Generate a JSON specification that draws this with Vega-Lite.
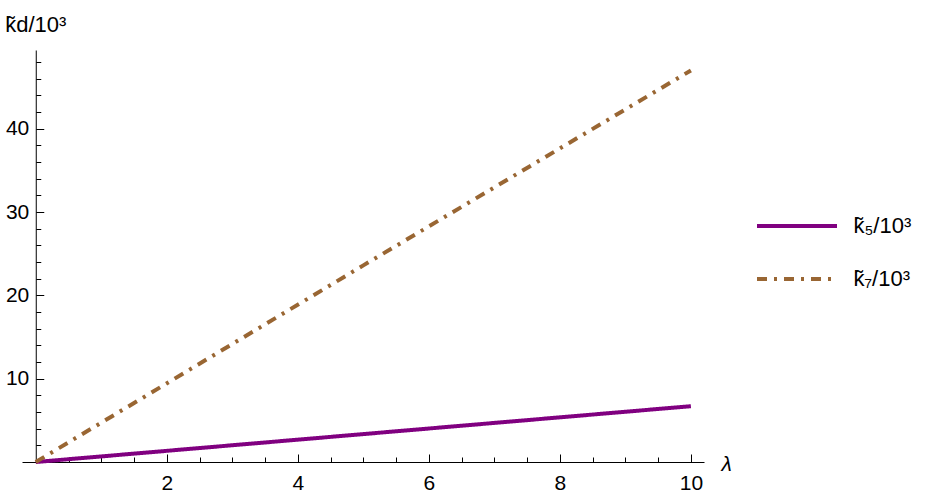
{
  "$schema": "https://vega.github.io/schema/vega-lite/v6.json",
  "width": 682,
  "height": 412,
  "autosize": {"type": "none"},
  "padding": {"left": 22, "top": 50, "right": 237, "bottom": 37},
  "background": "white",
  "config": {
    "view": {"stroke": null},
    "font": "Liberation Sans",
    "axis": {"grid": false, "domainColor": "#000000", "tickColor": "#000000", "labelColor": "#000000", "titleColor": "#000000", "labelFont": "Liberation Sans", "titleFont": "Liberation Sans"}
  },
  "data": {
    "values": [
      {"series": "k̃₅/10³", "lambda": 0, "k": 0},
      {"series": "k̃₅/10³", "lambda": 5, "k": 3.35},
      {"series": "k̃₅/10³", "lambda": 10, "k": 6.7},
      {"series": "k̃₇/10³", "lambda": 0, "k": 0},
      {"series": "k̃₇/10³", "lambda": 5, "k": 23.6},
      {"series": "k̃₇/10³", "lambda": 10, "k": 47.0}
    ]
  },
  "mark": {"type": "line", "strokeWidth": 4, "clip": false},
  "encoding": {
    "x": {
      "field": "lambda",
      "type": "quantitative",
      "scale": {"domain": [-0.21, 10.2], "nice": false, "zero": false},
      "axis": {
        "title": "λ",
        "titleFontStyle": "italic",
        "titleFontWeight": "normal",
        "titleFontSize": 21,
        "titleAlign": "left",
        "titleBaseline": "alphabetic",
        "titleAnchor": "start",
        "titleX": 699,
        "titleY": 8,
        "values": [0.5, 1, 1.5, 2, 2.5, 3, 3.5, 4, 4.5, 5, 5.5, 6, 6.5, 7, 7.5, 8, 8.5, 9, 9.5, 10],
        "labelExpr": "datum.value % 2 === 0 ? format(datum.value, 'd') : ''",
        "labelFontSize": 21,
        "labelPadding": 18,
        "labelFlush": false,
        "labelOverlap": false,
        "tickSize": {"condition": {"test": "datum.value % 2 === 0", "value": -8}, "value": -5},
        "tickWidth": 1,
        "domainWidth": 1
      }
    },
    "y": {
      "field": "k",
      "type": "quantitative",
      "scale": {"domain": [0, 49.45], "nice": false},
      "axis": {
        "title": "k̃d/10³",
        "titleAngle": 0,
        "titleFontWeight": "normal",
        "titleFontSize": 22,
        "titleAlign": "left",
        "titleBaseline": "alphabetic",
        "titleAnchor": "start",
        "titleX": -31,
        "titleY": -19,
        "offset": -13.76,
        "values": [2, 4, 6, 8, 10, 12, 14, 16, 18, 20, 22, 24, 26, 28, 30, 32, 34, 36, 38, 40, 42, 44, 46, 48],
        "labelExpr": "datum.value % 10 === 0 ? format(datum.value, 'd') : ''",
        "labelFontSize": 21,
        "labelPadding": 15,
        "labelFlush": false,
        "labelOverlap": false,
        "tickSize": {"condition": {"test": "datum.value % 10 === 0", "value": -8}, "value": -5},
        "tickWidth": 1,
        "domainWidth": 1
      }
    },
    "color": {
      "field": "series",
      "type": "nominal",
      "scale": {"domain": ["k̃₅/10³", "k̃₇/10³"], "range": ["#800080", "#996633"]},
      "legend": {
        "title": null,
        "orient": "none",
        "legendX": 763,
        "legendY": 164,
        "padding": 0,
        "symbolType": "M-4,0H4",
        "symbolSize": 400,
        "symbolStrokeWidth": 4,
        "labelFontSize": 22,
        "labelFont": "Liberation Sans",
        "labelColor": "#000000",
        "labelOffset": 44.5,
        "rowPadding": 30,
        "labelLimit": 200
      }
    },
    "strokeDash": {
      "field": "series",
      "type": "nominal",
      "scale": {"domain": ["k̃₅/10³", "k̃₇/10³"], "range": [[1, 0], [10, 7, 3, 7]]},
      "legend": {
        "title": null,
        "orient": "none",
        "legendX": 763,
        "legendY": 164,
        "padding": 0,
        "symbolType": "M-4,0H4",
        "symbolSize": 400,
        "symbolStrokeWidth": 4,
        "labelFontSize": 22,
        "labelFont": "Liberation Sans",
        "labelColor": "#000000",
        "labelOffset": 44.5,
        "rowPadding": 30,
        "labelLimit": 200
      }
    }
  }
}
